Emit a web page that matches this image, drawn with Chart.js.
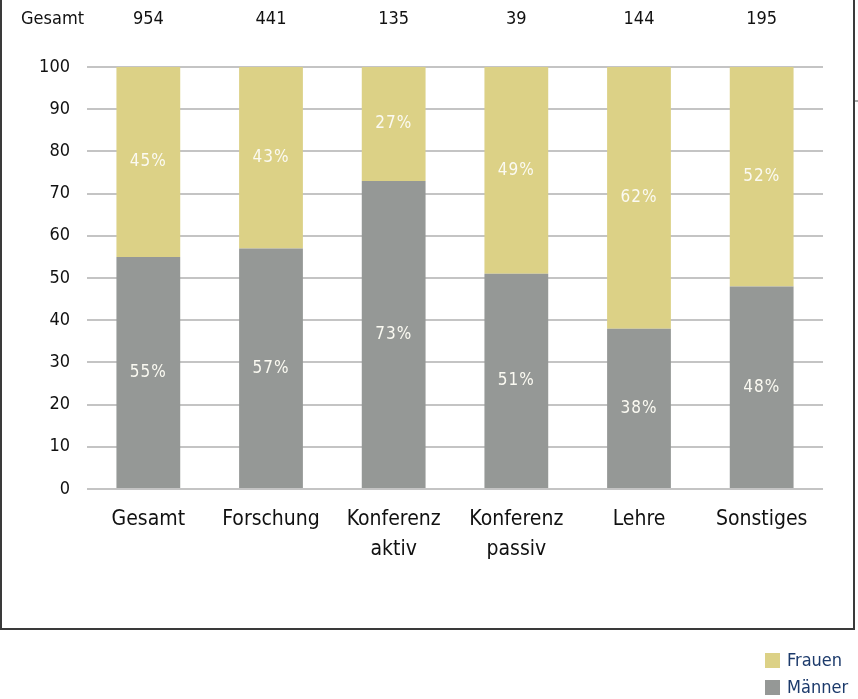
<!DOCTYPE html>
<html>
<head>
<meta charset="utf-8">
<script src="https://cdn.jsdelivr.net/npm/chart.js@4"></script>
<style>
  html, body { margin: 0; padding: 0; background: #fff; }
  #wrap { width: 858px; height: 699px; position: relative; }
</style>
</head>
<body>
<div id="wrap"><canvas id="chart"></canvas></div>
<script>
const categories = ['Gesamt', 'Forschung', ['Konferenz', 'aktiv'], ['Konferenz', 'passiv'], 'Lehre', 'Sonstiges']
const totals = [954, 441, 135, 39, 144, 195]
const maenner = [55, 57, 73, 51, 38, 48]
const frauen = [45, 43, 27, 49, 62, 52]
const yTicks = [0, 10, 20, 30, 40, 50, 60, 70, 80, 90, 100]

const FONT = '"Liberation Sans Narrow", "DejaVu Sans Condensed", Roboto, sans-serif'
const colors = { frauen: '#dcd186', maenner: '#959896', grid: '#c4c4c4', legend: '#1c3a6b' }

// box, header row, bar labels, legend
const extras = {
  id: 'extras',
  afterDraw(chart) {
    const ctx = chart.ctx
    const x = chart.scales.x
    ctx.save()
    // frame
    ctx.strokeStyle = '#3a3a3a'
    ctx.lineWidth = 2
    ctx.beginPath()
    ctx.moveTo(1, 0); ctx.lineTo(1, 629); ctx.lineTo(854, 629); ctx.lineTo(854, 0)
    ctx.stroke()
    ctx.fillStyle = '#aaa'
    ctx.fillRect(855, 100, 3, 2)

    // header row
    ctx.fillStyle = '#111'
    ctx.font = '18px ' + FONT
    ctx.textBaseline = 'middle'
    ctx.textAlign = 'left'
    ctx.fillText('Gesamt', 21, 19)
    ctx.textAlign = 'center'
    totals.forEach((t, i) => ctx.fillText(String(t), x.getPixelForValue(i), 19))

    // percentage labels
    ctx.fillStyle = '#fbfaf2'
    ctx.font = '17px ' + FONT
    ctx.letterSpacing = '1px'
    chart.data.datasets.forEach((ds, di) => {
      chart.getDatasetMeta(di).data.forEach((bar, i) => {
        const mid = (bar.y + bar.base) / 2
        ctx.fillText(ds.data[i] + '%', bar.x, mid)
      })
    })
    ctx.letterSpacing = '0px'

    // legend
    const items = [['Frauen', colors.frauen, 661], ['Männer', colors.maenner, 688]]
    ctx.textAlign = 'left'
    ctx.font = '18px ' + FONT
    items.forEach(([label, c, cy]) => {
      ctx.fillStyle = c
      ctx.fillRect(765, cy - 8, 15, 15)
      ctx.fillStyle = colors.legend
      ctx.fillText(label, 787, cy)
    })
    ctx.restore()
  }
}

new Chart(document.getElementById('chart'), {
  type: 'bar',
  data: {
    labels: categories,
    datasets: [
      { label: 'Männer', data: maenner, backgroundColor: colors.maenner },
      { label: 'Frauen', data: frauen, backgroundColor: colors.frauen }
    ]
  },
  options: {
    responsive: true,
    maintainAspectRatio: false,
    animation: false,
    layout: { padding: { top: 67, right: 35, left: 0, bottom: 0 } },
    datasets: { bar: { barPercentage: 0.52, categoryPercentage: 1 } },
    plugins: { legend: { display: false }, tooltip: { enabled: false } },
    scales: {
      x: {
        stacked: true,
        grid: { display: false },
        border: { display: false },
        ticks: { color: '#111', font: { family: FONT, size: 21, lineHeight: 1.45 }, padding: 7, maxRotation: 0 },
        afterFit(s) { s.height = 210 }
      },
      y: {
        stacked: true,
        min: 0,
        max: 100,
        afterBuildTicks(s) { s.ticks = yTicks.map(v => ({ value: v })) },
        grid: { color: colors.grid, lineWidth: 2, drawTicks: false },
        border: { display: false },
        ticks: { color: '#111', font: { family: FONT, size: 18 }, padding: 17 },
        afterFit(s) { s.width = 87 }
      }
    }
  },
  plugins: [extras]
})
</script>
</body>
</html>
